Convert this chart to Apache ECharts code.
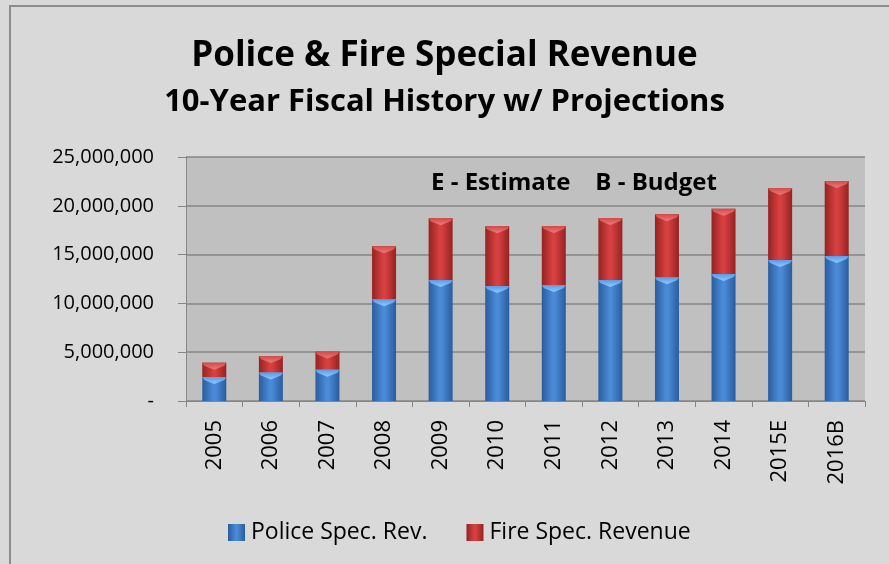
<!DOCTYPE html>
<html>
<head>
<meta charset="utf-8">
<script src="https://cdn.jsdelivr.net/npm/echarts@6/dist/echarts.min.js"></script>
<style>
  html, body { margin: 0; padding: 0; background: #d9d9d9; }
  #chart { width: 889px; height: 564px; }
  #frame { position: absolute; left: 9px; top: 5px; width: 900px; height: 600px;
           border-left: 2px solid #8c8c8c; border-top: 2px solid #8c8c8c; pointer-events: none; }
</style>
</head>
<body>
<div id="chart"></div>
<div id="frame"></div>
<script>
// Fiscal years (E = estimate, B = budget)
const years = ['2005', '2006', '2007', '2008', '2009', '2010', '2011', '2012', '2013', '2014', '2015E', '2016B'];
// Police special revenue
const policeRevenue = [2460000, 2910000, 3210000, 10420000, 12400000, 11780000, 11890000, 12400000, 12670000, 13010000, 14450000, 14860000];
// Fire special revenue
const fireRevenue = [1470000, 1700000, 1850000, 5430000, 6320000, 6120000, 6040000, 6350000, 6460000, 6700000, 7370000, 7680000];
// Value axis ticks
const yTicks = [0, 5000000, 10000000, 15000000, 20000000, 25000000];

const FONT = '"Open Sans", "Noto Sans", sans-serif';
const BAR_W = 24;

function barGradient(edge, mid) {
  return new echarts.graphic.LinearGradient(0, 0, 1, 0, [
    { offset: 0, color: edge },
    { offset: 0.45, color: mid },
    { offset: 0.55, color: mid },
    { offset: 1, color: edge }
  ]);
}

// Bevel highlight on the top edge of every stacked segment: [category, segment top value, colour key]
const bevelData = [];
years.forEach((y, i) => {
  bevelData.push([i, policeRevenue[i], 0]);
  bevelData.push([i, policeRevenue[i] + fireRevenue[i], 1]);
});
const bevelColors = [
  ['#5a9be6', '#8cc8ff'],
  ['#d24a4a', '#ee7a7a']
];

function renderBevel(params, api) {
  const pt = api.coord([api.value(0), api.value(1)]);
  const c = bevelColors[api.value(2)];
  const h = BAR_W / 2;
  const x0 = pt[0] - h, x1 = pt[0] + h, y = pt[1];
  return {
    type: 'polygon',
    shape: {
      points: [[x0, y], [x1, y], [x1 - 2, y + 3], [pt[0], y + 7], [x0 + 2, y + 3]]
    },
    style: {
      fill: new echarts.graphic.LinearGradient(0, 0, 0, 1, [
        { offset: 0, color: c[0] },
        { offset: 1, color: c[1] }
      ])
    },
    silent: true
  };
}

const chart = echarts.init(document.getElementById('chart'), null, { renderer: 'canvas' });

chart.setOption({
  backgroundColor: '#d9d9d9',
  animation: false,
  title: [
    {
      text: 'Police & Fire Special Revenue',
      left: 'center',
      top: 34,
      textStyle: { fontFamily: FONT, fontWeight: 'bold', fontSize: 35, color: '#000' }
    },
    {
      text: '10-Year Fiscal History w/ Projections',
      left: 'center',
      top: 82,
      textStyle: { fontFamily: FONT, fontWeight: 'bold', fontSize: 31, color: '#000' }
    }
  ],
  graphic: [
    {
      type: 'text',
      left: 431,
      top: 171,
      style: {
        text: 'E - Estimate    B - Budget',
        fontFamily: FONT,
        fontWeight: 'bold',
        fontSize: 24,
        fill: '#000'
      }
    }
  ],
  legend: {
    top: 516,
    left: 223,
    itemWidth: 17,
    itemHeight: 17,
    itemGap: 39,
    icon: 'rect',
    textStyle: { fontFamily: FONT, fontSize: 23, color: '#000', padding: [0, 0, 0, 1] },
    data: ['Police Spec. Rev.', 'Fire Spec. Revenue']
  },
  grid: {
    left: 186,
    right: 24,
    top: 157,
    bottom: 163,
    show: true,
    backgroundColor: '#c0c0c0',
    borderWidth: 0
  },
  xAxis: {
    type: 'category',
    data: years,
    axisLine: { lineStyle: { color: '#868686', width: 1 } },
    axisTick: { show: true, length: 6, lineStyle: { color: '#868686' } },
    axisLabel: {
      rotate: 90,
      margin: 19,
      fontFamily: FONT,
      fontSize: 22,
      color: '#000'
    }
  },
  yAxis: {
    type: 'value',
    min: yTicks[0],
    max: yTicks[yTicks.length - 1],
    interval: yTicks[1] - yTicks[0],
    axisLine: { show: true, lineStyle: { color: '#868686', width: 1 } },
    axisTick: { show: true, length: 8, lineStyle: { color: '#868686' } },
    splitLine: { lineStyle: { color: '#868686', width: 1.5 } },
    axisLabel: {
      margin: 32,
      fontFamily: FONT,
      fontSize: 20,
      color: '#000',
      formatter: v => (v === 0 ? '-' : v.toLocaleString('en-US'))
    }
  },
  series: [
    {
      name: 'Police Spec. Rev.',
      type: 'bar',
      stack: 'revenue',
      barWidth: BAR_W,
      data: policeRevenue,
      itemStyle: { color: barGradient('#2a5c9e', '#4a8ad6') }
    },
    {
      name: 'Fire Spec. Revenue',
      type: 'bar',
      stack: 'revenue',
      barWidth: BAR_W,
      data: fireRevenue,
      itemStyle: { color: barGradient('#962222', '#d64040') }
    },
    {
      name: 'bevel',
      type: 'custom',
      renderItem: renderBevel,
      data: bevelData,
      encode: { x: 0, y: 1 },
      silent: true,
      z: 3
    }
  ]
});
</script>
</body>
</html>
